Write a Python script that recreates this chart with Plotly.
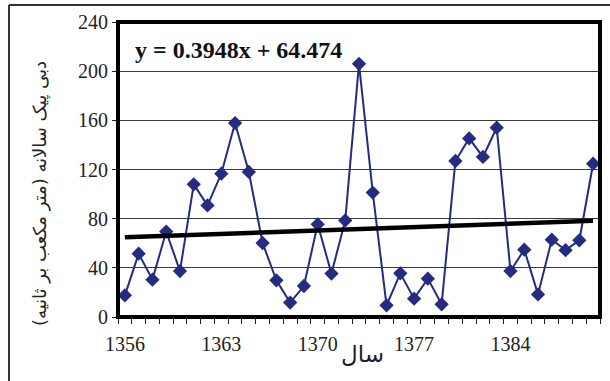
import plotly.graph_objects as go

years = [1356, 1357, 1358, 1359, 1360, 1361, 1362, 1363, 1364, 1365, 1366, 1367,
         1368, 1369, 1370, 1371, 1372, 1373, 1374, 1375, 1376, 1377, 1378, 1379,
         1380, 1381, 1382, 1383, 1384, 1385, 1386, 1387, 1388, 1389, 1390]
peak_flow = [17.6, 51.5, 30.4, 69.5, 37.4, 107.9, 90.8, 116.6, 157.8, 118.0, 60.2, 29.8,
             11.7, 25.2, 75.4, 35.3, 78.6, 206.0, 101.2, 9.5, 35.5, 14.9, 31.2, 10.3,
             126.9, 145.3, 130.2, 154.0, 37.4, 54.8, 18.4, 62.9, 54.4, 62.4, 124.7]
x_labels = [1356, 1363, 1370, 1377, 1384]
y_ticks = [0, 40, 80, 120, 160, 200, 240]
slope = 0.3948
intercept = 64.474
equation = "y = 0.3948x + 64.474"
y_title = "دبی پیک سالانه (متر مکعب بر ثانیه)"
x_title = "سال"

trend = [slope * (i + 1) + intercept for i in range(len(years))]

W, H = 610, 381
ML, MR, MT, MB = 118, 10, 22, 64
pw, ph = W - ML - MR, H - MT - MB

def px(xp):
    return (xp - ML) / pw

def py(yp):
    return (H - MB - yp) / ph

navy = "#262B82"
serif = "Liberation Serif, Times New Roman, serif"

fig = go.Figure()
fig.add_trace(go.Scatter(x=years, y=peak_flow, mode="lines+markers",
                         line=dict(color=navy, width=2),
                         marker=dict(symbol="diamond", size=11, color=navy),
                         showlegend=False))
fig.add_trace(go.Scatter(x=years, y=trend, mode="lines",
                         line=dict(color="black", width=4.5),
                         showlegend=False))

fig.update_layout(
    width=W, height=H,
    margin=dict(l=ML, r=MR, t=MT, b=MB),
    paper_bgcolor="white", plot_bgcolor="white",
    font=dict(family=serif, size=18, color="#222"),
    xaxis=dict(range=[years[0] - 0.5, years[-1] + 0.5],
               tickvals=x_labels, ticktext=[str(v) for v in x_labels],
               ticks="outside", ticklen=0, tickcolor="rgba(0,0,0,0)",
               ticklabelstandoff=9,
               minor=dict(tick0=years[0] - 0.5, dtick=1, ticks="outside",
                          ticklen=6, tickcolor="#222", tickwidth=1, showgrid=False),
               showgrid=False, zeroline=False, showline=False,
               tickfont=dict(family=serif, size=20, color="#222")),
    yaxis=dict(range=[0, 240], tickvals=y_ticks,
               ticks="outside", ticklen=5, tickcolor="#222",
               showgrid=True, gridcolor="#3a3a3a", gridwidth=1,
               zeroline=False, showline=False,
               tickfont=dict(family=serif, size=20, color="#222")),
)

# thick plot-area border
fig.add_shape(type="rect", xref="paper", yref="paper", x0=0, x1=1, y0=0, y1=1,
              line=dict(color="black", width=4), layer="above")
# outer frame (left and top edges)
fig.add_shape(type="line", xref="paper", yref="paper", x0=px(9), x1=px(9), y0=py(H + 5), y1=py(5),
              line=dict(color="#333", width=2))
fig.add_shape(type="line", xref="paper", yref="paper", x0=px(9), x1=px(W + 5), y0=py(5), y1=py(5),
              line=dict(color="#333", width=2))

fig.add_annotation(text="<b>" + equation + "</b>", xref="paper", yref="paper",
                   x=px(133), y=py(50), xanchor="left", yanchor="middle", showarrow=False,
                   font=dict(family=serif, size=24, color="#111"))
fig.add_annotation(text=y_title, xref="paper", yref="paper", textangle=-90,
                   x=px(40), y=py(194), xanchor="center", yanchor="middle", showarrow=False,
                   font=dict(family="DejaVu Sans", size=18, color="#222"))
fig.add_annotation(text=x_title, xref="paper", yref="paper",
                   x=px(362), y=py(354), xanchor="center", yanchor="middle", showarrow=False,
                   font=dict(family="DejaVu Sans", size=23, color="#222"))

fig.write_html("out.html")
